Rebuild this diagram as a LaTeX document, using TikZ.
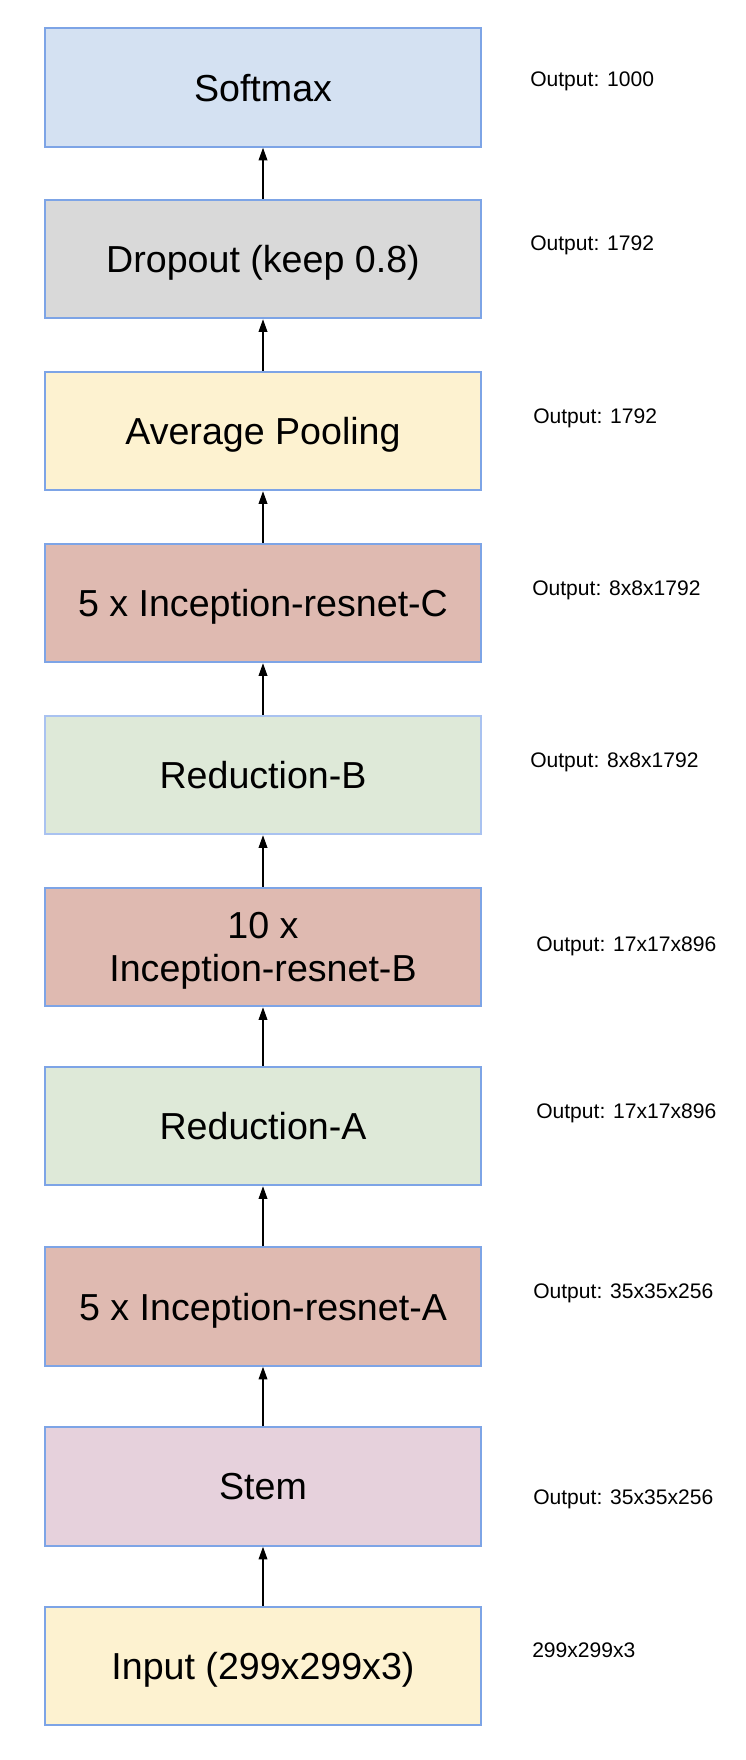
\documentclass[tikz,border=0pt]{standalone}
\usepackage{fontspec}
\setmainfont{Liberation Sans}
\usetikzlibrary{arrows.meta}
\definecolor{bordA}{HTML}{7DA4E6}
\definecolor{bordB}{HTML}{A9C2F0}
\definecolor{cBlue}{HTML}{D4E1F2}
\definecolor{cGray}{HTML}{D9D9D9}
\definecolor{cYellow}{HTML}{FDF2D0}
\definecolor{cRed}{HTML}{DFBAB1}
\definecolor{cGreen}{HTML}{DEE9D8}
\definecolor{cPink}{HTML}{E6D1DC}
\tikzset{
  layerbox/.style={draw=bordA, line width=1.5pt, minimum width=327pt, minimum height=88.8pt,
    inner sep=0pt, align=center, font=\fontsize{28.2}{32}\selectfont, text depth=0pt},
  outlabel/.style={anchor=base west, inner sep=0pt, font=\fontsize{15.8}{19}\selectfont},
  flow/.style={line width=1.1pt, -{Triangle[length=9.5pt,width=6.5pt]}}
}
\begin{document}
\begin{tikzpicture}[x=0.75pt,y=-0.75pt]
\useasboundingbox (0,0) rectangle (746,1760);
\node[layerbox, fill=cBlue]   (softmax) at (263,87.5)  {Softmax};
\node[layerbox, fill=cGray]   (dropout) at (263,259)   {Dropout (keep 0.8)};
\node[layerbox, fill=cYellow] (avgpool) at (263,431)   {Average Pooling};
\node[layerbox, fill=cRed]    (incc)    at (263,603)   {5 x Inception-resnet-C};
\node[layerbox, fill=cGreen, draw=bordB] (redb) at (263,775) {Reduction-B};
\node[layerbox, fill=cRed]    (incb)    at (263,947)   {10 x\\Inception-resnet-B};
\node[layerbox, fill=cGreen]  (reda)    at (263,1126)  {Reduction-A};
\node[layerbox, fill=cRed]    (inca)    at (263,1306.5){5 x Inception-resnet-A};
\node[layerbox, fill=cPink]   (stem)    at (263,1486.5){Stem};
\node[layerbox, fill=cYellow] (input)   at (263,1666)  {Input (299x299x3)};

\draw[flow] (dropout.north) -- (softmax.south);
\draw[flow] (avgpool.north) -- (dropout.south);
\draw[flow] (incc.north) -- (avgpool.south);
\draw[flow] (redb.north) -- (incc.south);
\draw[flow] (incb.north) -- (redb.south);
\draw[flow] (reda.north) -- (incb.south);
\draw[flow] (inca.north) -- (reda.south);
\draw[flow] (stem.north) -- (inca.south);
\draw[flow] (input.north) -- (stem.south);

\node[outlabel] (l1)  at (530,86)   {Output: 1000};
\node[outlabel] (l2)  at (530,250)  {Output: 1792};
\node[outlabel] (l3)  at (533,423.5){Output: 1792};
\node[outlabel] (l4)  at (532,595.5){Output: 8x8x1792};
\node[outlabel] (l5)  at (530,767.5){Output: 8x8x1792};
\node[outlabel] (l6)  at (536,951.5){Output: 17x17x896};
\node[outlabel] (l7)  at (536,1118.5){Output: 17x17x896};
\node[outlabel] (l8)  at (533,1298.5){Output: 35x35x256};
\node[outlabel] (l9)  at (533,1504.5){Output: 35x35x256};
\node[outlabel] (l10) at (532,1657.5){299x299x3};
\end{tikzpicture}
\end{document}
